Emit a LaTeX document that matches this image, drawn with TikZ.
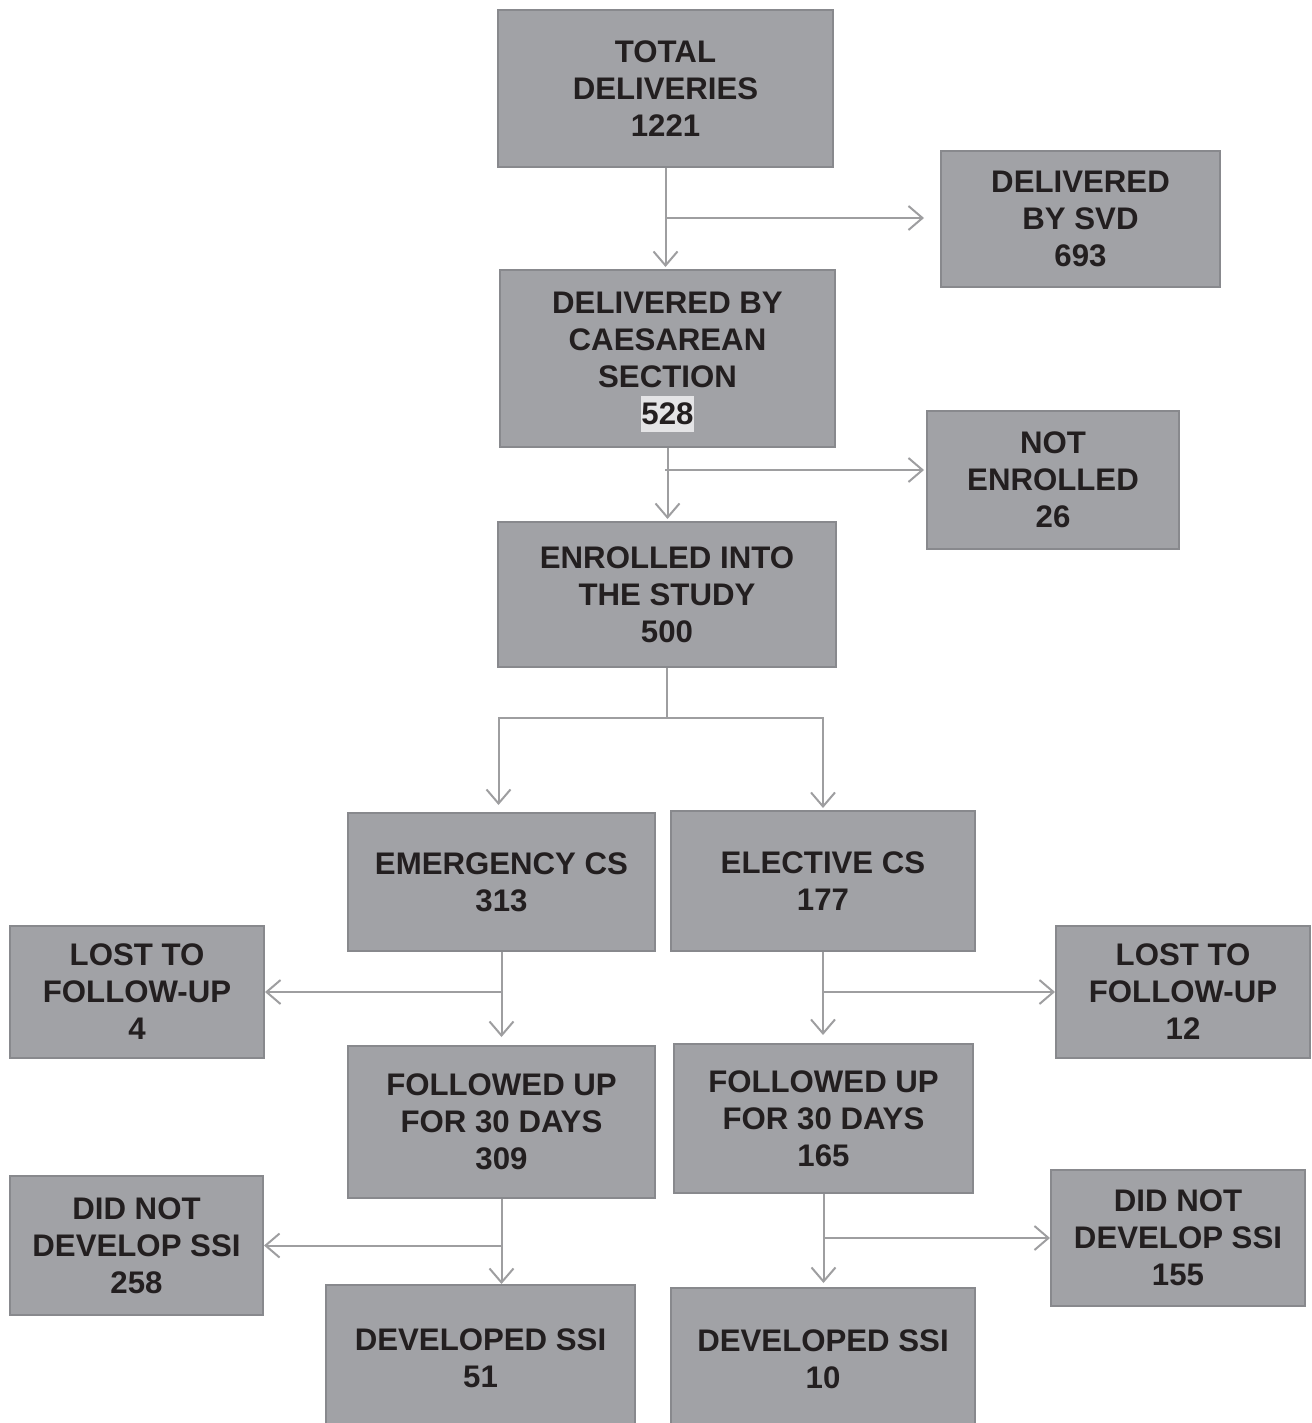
\documentclass[tikz,border=0pt]{standalone}
\usepackage{fontspec}
\setmainfont{Liberation Sans}
\usetikzlibrary{arrows.meta}
\definecolor{boxfill}{RGB}{161,162,166}
\definecolor{boxline}{RGB}{136,137,141}
\definecolor{arrline}{RGB}{158,158,160}
\definecolor{txtcol}{RGB}{35,31,32}
\definecolor{hilite}{RGB}{228,228,230}

\begin{document}
\begin{tikzpicture}[x=0.5pt,y=-0.5pt,
	stagebox/.style={draw=boxline,line width=1pt,fill=boxfill,text=txtcol,align=center,
		font=\fontsize{15.6}{18.5}\selectfont\bfseries,inner sep=0pt},
	boxsize/.style 2 args={minimum width=#1*0.5pt,minimum height=#2*0.5pt},
	arr/.style={draw=arrline,line width=1pt,-{Straight Barb[length=7pt,width=12pt]}},
	plain/.style={draw=arrline,line width=1pt}]
		
		\useasboundingbox (0,0) rectangle (1311,1423);
		\clip (0,0) rectangle (1311,1423);
		
		\node[stagebox,boxsize={335}{157}] (total) at (665.5,88.5) {TOTAL\\DELIVERIES\\1221};
		\node[stagebox,boxsize={279}{136}] (svd) at (1080.5,219) {DELIVERED\\BY SVD\\693};
		\node[stagebox,boxsize={335}{177}] (caes) at (667.5,358.5) {DELIVERED BY\\CAESAREAN\\SECTION\\\smash{\setlength{\fboxsep}{0pt}\colorbox{hilite}{\rule[-3.5pt]{0pt}{18pt}528}}};
		\node[stagebox,boxsize={252}{138}] (notenr) at (1053,480) {NOT\\ENROLLED\\26};
		\node[stagebox,boxsize={338}{145}] (enr) at (667,594.5) {ENROLLED INTO\\THE STUDY\\500};
		\node[stagebox,boxsize={307}{138}] (emerg) at (501.5,882) {EMERGENCY CS\\313};
		\node[stagebox,boxsize={304}{140}] (elect) at (823,881) {ELECTIVE CS\\177};
		\node[stagebox,boxsize={254}{132}] (lostA) at (137,992) {LOST TO\\FOLLOW-UP\\4};
		\node[stagebox,boxsize={254}{132}] (lostB) at (1183,992) {LOST TO\\FOLLOW-UP\\12};
		\node[stagebox,boxsize={307}{152}] (fuA) at (501.5,1122) {FOLLOWED UP\\FOR 30 DAYS\\309};
		\node[stagebox,boxsize={299}{149}] (fuB) at (823.5,1118.5) {FOLLOWED UP\\FOR 30 DAYS\\165};
		\node[stagebox,boxsize={253}{139}] (noA) at (136.5,1245.5) {DID NOT\\DEVELOP SSI\\258};
		\node[stagebox,boxsize={254}{136}] (noB) at (1178,1238) {DID NOT\\DEVELOP SSI\\155};
		\node[stagebox,boxsize={309}{146}] (devA) at (480.5,1358) {DEVELOPED SSI\\51};
		\node[stagebox,boxsize={304}{142}] (devB) at (823,1359) {DEVELOPED SSI\\10};
		
		\coordinate (cut1) at (665,218);
		\coordinate (cut2) at (665,470);
		\coordinate (split) at (665,718);
		
		\draw[arr,shorten >=1pt] (total.south) -- (total.south |- caes.north);
		\draw[arr,shorten >=8pt] (cut1) -- (cut1 -| svd.west);
		\draw[arr,shorten >=1pt] (caes.south) -- (caes.south |- enr.north);
		\draw[arr,shorten >=1pt] (cut2) -- (cut2 -| notenr.west);
		\draw[plain] (enr.south) -- (enr.south |- split);
		\draw[arr,shorten >=3.5pt] (enr.south |- split) -| ([xshift=-1.5pt]emerg.north);
		\draw[arr,shorten >=1pt] (enr.south |- split) -| (elect.north);
		\draw[arr,shorten >=4pt] (emerg.south) -- (emerg.south |- fuA.north);
		\draw[arr] (emerg.south |- lostA.east) -- (lostA.east);
		\draw[arr,shorten >=4pt] (elect.south) -- (elect.south |- fuB.north);
		\draw[arr] (elect.south |- lostB.west) -- (lostB.west);
		\draw[arr] (fuA.south) -- (fuA.south |- devA.north);
		\draw[arr] (fuA.south |- noA.east) -- (noA.east);
		\draw[arr,shorten >=2pt] (fuB.south) -- (fuB.south |- devB.north);
		\draw[arr] (fuB.south |- noB.west) -- (noB.west);
	\end{tikzpicture}
\end{document}
